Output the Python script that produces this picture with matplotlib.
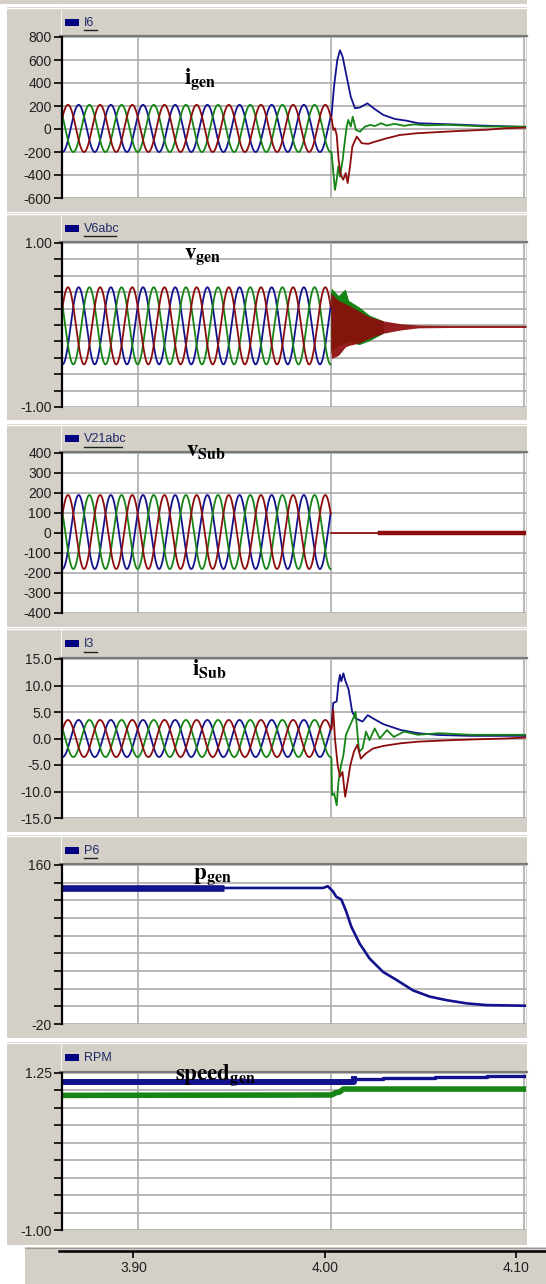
import numpy as np
import matplotlib.pyplot as plt
from matplotlib.patches import Rectangle

plt.rcParams['mathtext.fontset'] = 'stix'
plt.rcParams['font.family'] = ['Liberation Sans', 'DejaVu Sans']

W, H = 546, 1284

# ---- data ----
t_left, t_right = 3.86078, 4.10119
t_fault = 4.00
f_sys = 60.0
t_red_peak = 3.9972          # time of the last red crest before the fault

# steady state 3-phase waves (amplitude, offset)
amp_i6, off_i6 = 205, 5
amp_v6, off_v6 = 0.47, -0.01
amp_v21, off_v21 = 185, 5
amp_i3, off_i3 = 3.5, 0.0

# I6 after the fault
i6_blue_t = [4.0004, 4.0017, 4.0034, 4.0048, 4.0062, 4.0083, 4.0104, 4.0126, 4.0152, 4.0190,
             4.0230, 4.0273, 4.0333, 4.0394, 4.0454, 4.0632, 4.0811, 4.1012]
i6_blue_v = [110, 367, 598, 685, 627, 453, 280, 180, 188, 223, 171, 122, 87, 72, 50, 40, 28, 18]
i6_green_t = [4.0004, 4.0014, 4.0022, 4.0031, 4.0039, 4.0048, 4.0062, 4.0074, 4.0083, 4.0091,
              4.0104, 4.0114, 4.0131, 4.0152, 4.0178, 4.0204, 4.0230, 4.0260, 4.0290, 4.0330,
              4.0380, 4.0430, 4.0500, 4.0600, 4.0700, 4.0800, 4.1012]
i6_green_v = [-200, -383, -530, -441, -326, -413, -268, -95, 21, 79, 21, 107, -9, -23, 21, 35,
              26, 50, 30, 45, 28, 40, 32, 36, 30, 22, 20]
i6_red_t = [4.0005, 4.0014, 4.0022, 4.0031, 4.0041, 4.0052, 4.0065, 4.0078, 4.0088, 4.0100,
            4.0112, 4.0135, 4.0161, 4.0195, 4.0230, 4.0290, 4.0359, 4.0446, 4.0632, 4.0810,
            4.0900, 4.1012]
i6_red_v = [90, -8, 6, -52, -268, -398, -441, -383, -470, -326, -153, -66, -124, -129, -110,
            -81, -52, -37, -20, -6, 6, 12]

# V6abc after the fault: envelope of the dense oscillation
v6_red_t = [4.0000, 4.0004, 4.0040, 4.0075, 4.0093, 4.0147, 4.0201, 4.0273, 4.0363, 4.0452,
            4.0632, 4.1012]
v6_red_hi = [0.40, 0.38, 0.30, 0.26, 0.24, 0.17, 0.10, 0.05, 0.015, 0.0, -0.005, -0.005]
v6_red_lo = [-0.30, -0.41, -0.37, -0.27, -0.25, -0.22, -0.16, -0.10, -0.06, -0.035, -0.03, -0.03]
v6_grn_t = [4.0000, 4.0004, 4.0040, 4.0075, 4.0093, 4.0147, 4.0201, 4.0273]
v6_grn_hi = [0.40, 0.45, 0.36, 0.44, 0.30, 0.22, 0.12, 0.05]
v6_grn_lo = [-0.35, -0.30, -0.25, -0.22, -0.20, -0.24, -0.19, -0.10]

# V21abc after the fault
v21_after_t = [4.0000, 4.0255, 4.1012]
v21_after_v = [0, 0, 0]

# I3 after the fault
i3_blue_t = [4.0004, 4.0013, 4.0031, 4.0040, 4.0048, 4.0055, 4.0066, 4.0075, 4.0093, 4.0111,
             4.0129, 4.0165, 4.0192, 4.0219, 4.0273, 4.0363, 4.0452, 4.0560, 4.0722, 4.1012]
i3_blue_v = [2.2, 6.7, 7.0, 10.4, 12.0, 10.8, 12.3, 11.0, 9.2, 5.1, 3.8, 3.2, 4.4, 3.8, 2.7,
             1.6, 1.0, 0.66, 0.5, 0.5]
i3_green_t = [4.0004, 4.0007, 4.0018, 4.0031, 4.0040, 4.0054, 4.0066, 4.0079, 4.0102, 4.0120,
              4.0129, 4.0138, 4.0147, 4.0165, 4.0183, 4.0201, 4.0228, 4.0255, 4.0291, 4.0327,
              4.0381, 4.0452, 4.0560, 4.0722, 4.1012]
i3_green_v = [-3.8, -10.7, -10.4, -12.6, -8.2, -5.0, -3.1, 0.7, 2.6, 4.1, 5.0, 1.3, -2.5, -1.9,
              1.3, -0.3, 1.9, 0.0, 1.6, 0.3, 1.3, 0.7, 1.0, 0.7, 0.7]
i3_red_t = [4.0004, 4.0013, 4.0022, 4.0036, 4.0048, 4.0061, 4.0075, 4.0088, 4.0102, 4.0120,
            4.0138, 4.0156, 4.0183, 4.0219, 4.0273, 4.0363, 4.0452, 4.0632, 4.0901, 4.1012]
i3_red_v = [1.7, 5.4, 0.0, -5.0, -7.2, -6.3, -11.0, -8.2, -5.0, -2.5, -1.2, -3.8, -2.8, -1.9,
            -1.4, -0.9, -0.6, -0.3, 0.0, 0.2]

# P6
p6_t = [3.86078, 3.9447, 3.9960, 3.9985, 4.0012, 4.0029, 4.0055, 4.0081, 4.0107, 4.0150,
        4.0202, 4.0271, 4.0340, 4.0427, 4.0513, 4.0600, 4.0703, 4.0807, 4.1012]
p6_v = [134, 134, 134, 136, 130, 124, 121, 107, 90, 71, 54, 39, 30, 18, 11, 7, 3.4, 1.4, 0.7]

# RPM
rpm_blue_t = [3.86078, 4.0120, 4.0273, 4.0542, 4.0811, 4.1012]
rpm_blue_v = [1.116, 1.164, 1.178, 1.193, 1.212, 1.212]
rpm_green_t = [3.86078, 4.0004, 4.0030, 4.0045, 4.0066, 4.1012]
rpm_green_v = [0.929, 0.935, 0.97, 0.975, 1.02, 1.02]

# panel titles, annotations and y ticks
titles = ['I6', 'V6abc', 'V21abc', 'I3', 'P6', 'RPM']
notes = [r'$\mathbf{i}_{\mathbf{gen}}$', r'$\mathbf{v}_{\mathbf{gen}}$', r'$\mathbf{v}_{\mathbf{Sub}}$',
         r'$\mathbf{i}_{\mathbf{Sub}}$', r'$\mathbf{p}_{\mathbf{gen}}$', r'$\mathbf{speed}_{\mathbf{gen}}$']
y_limits = [(-600, 800), (-1, 1), (-400, 400), (-15, 15), (-20, 160), (-1, 1.25)]
y_steps = [200, 0.2, 100, 5, 20, 0.25]
y_labels = [
    {800: '800', 600: '600', 400: '400', 200: '200', 0: '0', -200: '-200', -400: '-400', -600: '-600'},
    {1: '1.00', -1: '-1.00'},
    {400: '400', 300: '300', 200: '200', 100: '100', 0: '0', -100: '-100', -200: '-200',
     -300: '-300', -400: '-400'},
    {15: '15.0', 10: '10.0', 5: '5.0', 0: '0.0', -5: '-5.0', -10: '-10.0', -15: '-15.0'},
    {160: '160', -20: '-20'},
    {1.25: '1.25', -1: '-1.00'},
]
x_ticks = [3.90, 4.00, 4.10]

# ---- layout (pixels) ----
panel_y = [(7, 212), (213, 420), (424, 627), (628, 832), (835, 1038), (1042, 1245)]
plot_y = [(37, 198), (243, 407), (453, 613), (659, 818), (865, 1024), (1073, 1230)]
note_xy = [(184, 84), (184, 259), (186, 456), (192, 675), (193, 879), (175, 1080)]
PX0, PX1 = 62, 526
GRAY = '#d4d0c8'
BLUE, GREEN, RED = '#12128e', '#158515', '#8c0c0c'

fig = plt.figure(figsize=(W / 100, H / 100), dpi=100)
bg = fig.add_axes([0, 0, 1, 1], zorder=-5)
bg.set_xlim(0, W)
bg.set_ylim(H, 0)
bg.axis('off')

bg.add_patch(Rectangle((0, 0), 527, 4, color=GRAY, lw=0))
for (top, bot), (py0, py1), title in zip(panel_y, plot_y, titles):
    bg.add_patch(Rectangle((7, top), 520, bot - top, color=GRAY, lw=0))
    bg.plot([7, 527], [top + 0.5, top + 0.5], color='white', lw=1.0)
    bg.plot([60.5, 60.5], [top, py0 - 2], color='#f4f3ef', lw=0.8)
    bg.plot([60, 527], [py0 - 1.2, py0 - 1.2], color='#7a7a7a', lw=1.6)
    hc = (top + py0) / 2
    bg.add_patch(Rectangle((65, hc - 3.5), 14, 7, color='#000080', lw=0))
    bg.text(84, hc + 0.5, title, fontsize=9, color='#1e2868', va='center', ha='left')
    if title != 'RPM':
        bg.plot([84, 84 + 6.3 * len(title)], [hc + 8, hc + 8], color='#202020', lw=1.0)

# bottom time axis strip
bg.add_patch(Rectangle((25, 1247), 521, H - 1247, color=GRAY, lw=0))
bg.plot([25, 546], [1247.5, 1247.5], color='#9a9a9a', lw=0.8)

t_pre = np.linspace(t_left, t_fault, 1600)
wt = 2 * np.pi * f_sys * (t_pre - t_red_peak)


def three_phase(amp, off):
    red = off + amp * np.cos(wt)
    blue = off + amp * np.cos(wt - 2 * np.pi / 3)
    green = off + amp * np.cos(wt - 4 * np.pi / 3)
    return blue, green, red


axes = []
for i, (py0, py1) in enumerate(plot_y):
    ax = fig.add_axes([PX0 / W, 1 - py1 / H, (PX1 - PX0) / W, (py1 - py0) / H])
    lo, hi = y_limits[i]
    ticks = np.round(np.arange(lo, hi + y_steps[i] / 2, y_steps[i]), 4)
    ax.set_xlim(t_left, t_right)
    ax.set_ylim(lo, hi)
    ax.set_yticks(ticks)
    ax.set_yticklabels([y_labels[i].get(round(float(v), 2), '') for v in ticks])
    ax.set_xticks(x_ticks)
    ax.set_xticklabels([])
    ax.tick_params(axis='x', length=0)
    ax.tick_params(axis='y', direction='out', length=6, width=1.2, pad=1.5,
                   labelsize=10, labelcolor='#202020')
    ax.grid(True, color='#acacac', lw=1.2)
    ax.set_axisbelow(True)
    for s in ['top', 'right', 'bottom']:
        ax.spines[s].set_visible(False)
    ax.spines['left'].set_linewidth(1.6)
    ax.set_facecolor('white')
    axes.append(ax)

lw = 1.3
# I6
b, g, r = three_phase(amp_i6, off_i6)
ax = axes[0]
ax.plot(np.r_[t_pre, i6_blue_t], np.r_[b, i6_blue_v], color=BLUE, lw=lw)
ax.plot(np.r_[t_pre, i6_green_t], np.r_[g, i6_green_v], color=GREEN, lw=lw)
ax.plot(np.r_[t_pre, i6_red_t], np.r_[r, i6_red_v], color=RED, lw=lw)

# V6abc
b, g, r = three_phase(amp_v6, off_v6)
ax = axes[1]
ax.plot(t_pre, b, color=BLUE, lw=lw)
ax.plot(t_pre, g, color=GREEN, lw=lw)
ax.plot(t_pre, r, color=RED, lw=lw)
ax.fill_between(v6_grn_t, v6_grn_lo, v6_grn_hi, color=GREEN, lw=0)
ax.fill_between(v6_red_t, v6_red_lo, v6_red_hi, color=RED, lw=0, alpha=0.92)

# V21abc
b, g, r = three_phase(amp_v21, off_v21)
ax = axes[2]
ax.plot(t_pre, b, color=BLUE, lw=lw)
ax.plot(t_pre, g, color=GREEN, lw=lw)
ax.plot(t_pre, r, color=RED, lw=lw)
ax.plot(v21_after_t[:2], v21_after_v[:2], color=RED, lw=1.2)
ax.plot(v21_after_t[1:], v21_after_v[1:], color=RED, lw=3.2)

# I3
b, g, r = three_phase(amp_i3, off_i3)
ax = axes[3]
ax.plot(np.r_[t_pre, i3_blue_t], np.r_[b, i3_blue_v], color=BLUE, lw=lw)
ax.plot(np.r_[t_pre, i3_green_t], np.r_[g, i3_green_v], color=GREEN, lw=lw)
ax.plot(np.r_[t_pre, i3_red_t], np.r_[r, i3_red_v], color=RED, lw=lw)

# P6
ax = axes[4]
ax.plot(p6_t[:2], p6_v[:2], color=BLUE, lw=4.8, solid_capstyle='butt')
ax.plot(p6_t[1:], p6_v[1:], color=BLUE, lw=1.9)

# RPM
ax = axes[5]
ax.plot(rpm_blue_t[:2], rpm_blue_v[:2], color=BLUE, lw=4.3, drawstyle='steps-post')
ax.plot(rpm_blue_t[1:], rpm_blue_v[1:], color=BLUE, lw=2.4, drawstyle='steps-post')
ax.plot(rpm_green_t, rpm_green_v, color=GREEN, lw=4.0)

# annotations
for (x, y), s in zip(note_xy, notes):
    fig.text(x / W, 1 - y / H, s, fontsize=16.5, color='black', ha='left', va='baseline')

# bottom time axis
bx0, bx1 = 59, 546
bax = fig.add_axes([bx0 / W, 0, (bx1 - bx0) / W, (H - 1251) / H])
bax.set_xlim(3.86115, 4.11546)
bax.set_ylim(0, 1)
bax.patch.set_alpha(0)
for s in ['left', 'right', 'bottom']:
    bax.spines[s].set_visible(False)
bax.spines['top'].set_linewidth(1.8)
bax.xaxis.set_ticks_position('top')
bax.set_xticks(x_ticks)
bax.set_xticklabels(['3.90', '4.00', '4.10'])
bax.tick_params(axis='x', direction='in', length=5, width=1.2, labeltop=False,
                labelbottom=False)
bax.set_yticks([])
for tx, lab in zip(x_ticks, ['3.90', '4.00', '4.10']):
    bax.text(tx, 0.5, lab, fontsize=10, color='#202020', ha='center', va='center')

fig.savefig('out.png', dpi=100)
